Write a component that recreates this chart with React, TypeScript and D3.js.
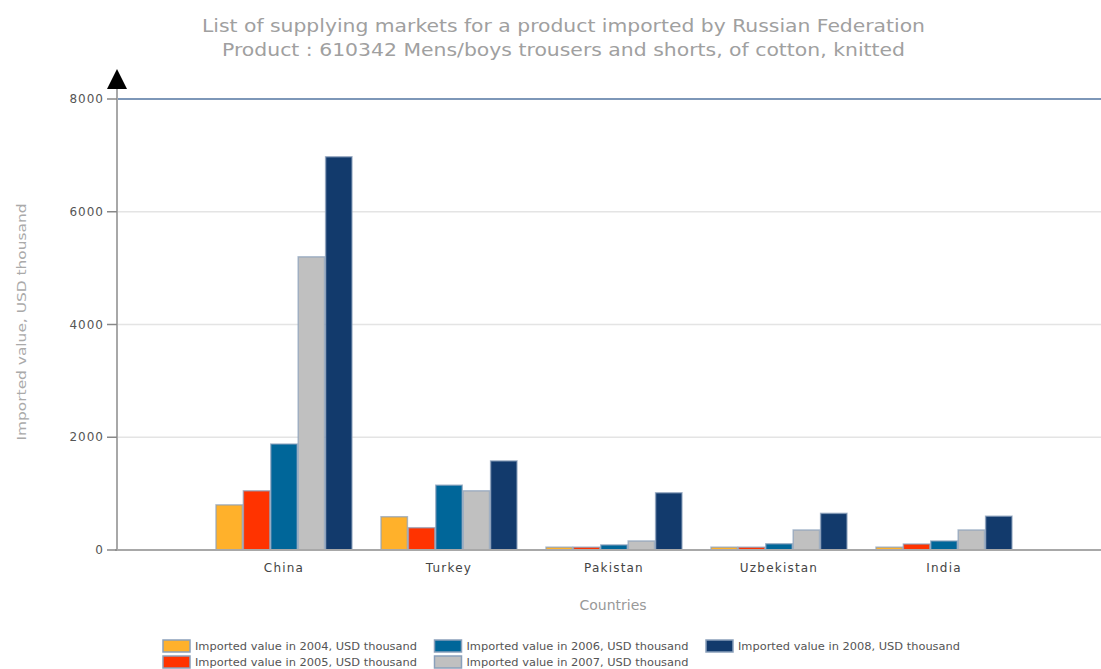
import React from "react";
import * as d3 from "d3";

const countries = ["China", "Turkey", "Pakistan", "Uzbekistan", "India"];
const years = ["2004", "2005", "2006", "2007", "2008"];
const v2004 = [800, 590, 50, 50, 50];
const v2005 = [1050, 395, 50, 50, 106];
const v2006 = [1880, 1150, 90, 110, 160];
const v2007 = [5200, 1050, 160, 355, 355];
const v2008 = [6975, 1580, 1015, 650, 600];
const yTicks = [0, 2000, 4000, 6000, 8000];
const colors = ["#FFB12B", "#FF3300", "#006699", "#C0C0C0", "#123A6C"];
const title1 = "List of supplying markets for a product imported by Russian Federation";
const title2 = "Product : 610342 Mens/boys trousers and shorts, of cotton, knitted";

const series = [v2004, v2005, v2006, v2007, v2008];

export default function App() {
  const W = 1101, H = 669;
  const x0 = 117;
  const y = d3.scaleLinear().domain([0, 8000]).range([550, 99]);
  const x = d3.scaleBand().domain(countries).range([201.5, 1026.5]).paddingInner(0).paddingOuter(0);
  const inner = d3.scaleBand().domain(years).range([0, 137]).padding(0);
  const groupOffset = (x.bandwidth() - 137) / 2;

  return (
    <svg width={W} height={H} style={{ position: "absolute", left: 0, top: 0, background: "#fff" }}
      fontFamily="DejaVu Sans, Verdana, sans-serif">
      <text x={202} y={32} fontSize={17} fill="#a0a0a0" textLength={723} lengthAdjust="spacingAndGlyphs">{title1}</text>
      <text x={222} y={56} fontSize={17} fill="#a0a0a0" textLength={683} lengthAdjust="spacingAndGlyphs">{title2}</text>

      {yTicks.filter(t => t > 0 && t < 8000).map(t => (
        <line key={"g" + t} x1={x0} x2={W} y1={y(t)} y2={y(t)} stroke="#e4e4e4" strokeWidth={1.5} />
      ))}
      <line x1={x0} x2={W} y1={y(8000)} y2={y(8000)} stroke="#7d97b8" strokeWidth={2} />

      {series.map((vals, si) =>
        countries.map((c, ci) => {
          const bx = (x(c) as number) + groupOffset + (inner(years[si]) as number);
          const bw = inner.bandwidth();
          return (
            <rect key={si + "-" + ci} x={bx + 0.5} y={y(vals[ci])} width={bw - 1}
              height={y(0) - y(vals[ci])} fill={colors[si]} stroke="#8aa0bb" strokeOpacity={0.7} strokeWidth={1.5} />
          );
        })
      )}

      <line x1={x0 - 2} x2={W} y1={y(0)} y2={y(0)} stroke="#a8a8a8" strokeWidth={2} />
      <line x1={x0} x2={x0} y1={85} y2={y(0)} stroke="#a8a8a8" strokeWidth={2} />
      <path d={`M${x0 - 10},${89} L${x0 + 10},${89} L${x0},${69} Z`} fill="#000" />

      {yTicks.map(t => (
        <g key={"t" + t}>
          <line x1={x0 - 10} x2={x0} y1={y(t)} y2={y(t)} stroke="#888" strokeWidth={1.5} />
          <text x={x0 - 13} y={y(t) + 4} textAnchor="end" fontSize={12} letterSpacing={1} fill="#555">{t}</text>
        </g>
      ))}

      <text transform={`translate(26,${322}) rotate(-90)`} textAnchor="middle" fontSize={13} fill="#aaa"
        textLength={237} lengthAdjust="spacingAndGlyphs">
        Imported value, USD thousand
      </text>

      {countries.map(c => (
        <text key={c} x={(x(c) as number) + x.bandwidth() / 2} y={572} textAnchor="middle" fontSize={12}
          letterSpacing={1.2} fill="#444">{c}</text>
      ))}
      <text x={613} y={610} textAnchor="middle" fontSize={14} fill="#999">Countries</text>

      {years.map((yr, i) => {
        const col = Math.floor(i / 2), row = i % 2;
        const lx = 163 + col * 271.5, ly = 640 + row * 16;
        return (
          <g key={"l" + yr}>
            <rect x={lx} y={ly} width={27} height={12} fill={colors[i]} stroke="#8aa0bb" strokeWidth={1.5} />
            <text x={lx + 32} y={ly + 10} fontSize={11} fill="#555" textLength={222} lengthAdjust="spacingAndGlyphs">
              {`Imported value in ${yr}, USD thousand`}
            </text>
          </g>
        );
      })}
    </svg>
  );
}
